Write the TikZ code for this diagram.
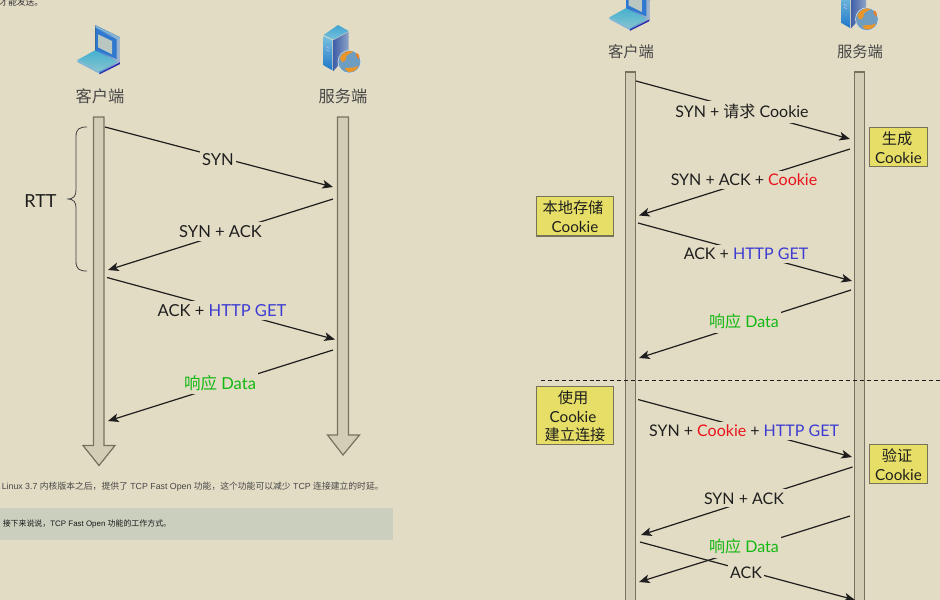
\documentclass[tikz,border=0pt]{standalone}
\usepackage{fontspec}
\setmainfont{Lato}
\newfontfamily\cjk{Noto Sans CJK SC}
\newfontfamily\webfont{Liberation Sans}
\usetikzlibrary{arrows.meta,decorations.pathreplacing,calc}
\definecolor{bgc}{HTML}{E3DCC4}
\definecolor{barc}{HTML}{D3CDB6}
\definecolor{barl}{HTML}{77725F}
\definecolor{yel}{HTML}{E6DE66}
\definecolor{yell}{HTML}{77735A}
\definecolor{band}{HTML}{CACFBE}
\definecolor{blu}{HTML}{3C3CD2}
\definecolor{rd}{HTML}{E8141C}
\definecolor{grn}{HTML}{12B812}
\definecolor{ink}{HTML}{1E1E1E}
\definecolor{lapa}{HTML}{7FB6D8}
\definecolor{lapb}{HTML}{2F78CF}
\definecolor{lapc}{HTML}{A8B8CC}
\definecolor{lapd}{HTML}{45B0CF}
\definecolor{lape}{HTML}{86C4CE}
\definecolor{srva}{HTML}{3FA6CF}
\definecolor{srvb}{HTML}{1E76C8}
\definecolor{srvc}{HTML}{3F5FA8}
\definecolor{srvd}{HTML}{8EA4C8}
\definecolor{glb}{HTML}{6F9DC0}
\definecolor{gor}{HTML}{E8962A}
\newcommand{\zh}[1]{{\cjk #1}}
\tikzset{
  x=0.75pt,y=-0.75pt,
  lifeline/.style={draw=barl,fill=barc,line width=0.9pt},
  msg/.style={draw=ink,line width=0.9pt,-{Stealth[length=8pt,width=6.5pt,inset=2pt]}},
  msgtext/.style={fill=bgc,inner xsep=1.5pt,inner ysep=2.5pt,text=ink,yshift=-0.6pt,font=\fontsize{12.4}{14}\selectfont},
  msgtextr/.style={msgtext,font=\fontsize{12}{14}\selectfont},
  hosta/.style={text=black!72,font=\cjk\fontsize{12.2}{14}\selectfont,inner sep=0pt},
  hostb/.style={text=black!72,font=\cjk\fontsize{11.5}{14}\selectfont,inner sep=0pt},
  notebox/.style={draw=yell,fill=yel,line width=0.9pt,minimum width=43.5pt,inner sep=0pt},
  notetext/.style={text=ink,inner sep=0pt,font=\fontsize{11.4}{13}\selectfont},
  webtext/.style={inner sep=0pt,anchor=west,font=\webfont\fontsize{6.6}{8}\selectfont},
  laptop/.pic={
    \begin{scope}[scale=1/3]
      \fill[left color=lapb,right color=lapc] (106,31)--(180,67)--(180,142)--(118,175)--(106,150)--cycle;
      \fill[lapa] (106,31)--(180,67)--(180,73)--(106,37)--cycle;
      \fill[lapb] (108,42)--(170,73)--(170,132)--(108,105)--cycle;
      \fill[barc!70!lapa] (114,58)--(156,78)--(156,118)--(114,97)--cycle;
      \fill[blue!65!black!85!white] (118,175)--(180,142)--(180,147)--(118,178)--cycle;
      \shade[top color=lapd,bottom color=lape] (52,135)--(105,106)--(172,140)--(118,170)--cycle;
      \fill[lapa] (52,135)--(118,170)--(118,176)--(52,141)--cycle;
    \end{scope}
  },
  serverbox/.pic={
    \begin{scope}[scale=1/3]
      \shade[top color=srva,bottom color=srva!70!white] (41,60)--(84,30)--(116,48)--(70,74)--cycle;
      \shade[top color=srva!70!white,bottom color=srvb] (41,63)--(67,76)--(67,166)--(41,151)--cycle;
      \shade[left color=srvc,right color=srvd] (70,76)--(116,50)--(116,118)--(70,168)--cycle;
      \draw[white!75!blue,line width=0.4pt] (49,95)--(58,100) (49,104)--(58,109);
      \fill[white!70!glb] (118,140) circle (35);
      \fill[glb] (118,140) circle (33);
      \fill[gor] (90,128) .. controls (100,108) and (118,104) .. (130,110) .. controls (118,118) and (106,118) .. (108,133) .. controls (100,146) and (92,142) .. cycle;
      \fill[gor] (104,160) .. controls (120,155) and (133,162) .. (143,152) .. controls (148,160) and (130,174) .. (114,171) -- cycle;
      \fill[gor!85!red] (138,114) .. controls (148,114) and (150,128) .. (146,133) .. controls (140,127) and (136,120) .. cycle;
    \end{scope}
  }
}
\begin{document}
\begin{tikzpicture}
\useasboundingbox (0,0) rectangle (940,600);
\clip (0,0) rectangle (940,600);
\fill[bgc] (0,0) rectangle (940,600);
% page text
\node[webtext,text=black!80] (ptop) at (-1,2.5) {\zh{才能发送。}};
\fill[band] (0,508) rectangle (392.5,540);
\node[webtext,text=black!72] (pone) at (1.5,487) {Linux 3.7 \zh{内核版本之后，提供了} TCP Fast Open \zh{功能，这个功能可以减少} TCP \zh{连接建立的时延。}};
\node[webtext,text=black!90,font=\webfont\fontsize{5.95}{8}\selectfont] (ptwo) at (2.5,524) {\zh{接下来说说，}TCP Fast Open \zh{功能的工作方式。}};
% left icons and titles
\pic at (60,15) {laptop};
\pic at (310,15) {serverbox};
\node[hosta] (lc) at (100,96) {客户端};
\node[hosta] (ls) at (343,96) {服务端};
% left lifelines
\draw[lifeline] (93.5,117)--(104,117)--(104,445.5)--(115,445.5)--(99,465.5)--(83,445.5)--(93.5,445.5)--cycle;
\draw[lifeline] (337.5,117)--(348.5,117)--(348.5,435)--(359.5,435)--(343,455)--(327.5,435)--(337.5,435)--cycle;
% brace
\draw[ink!85,line width=0.6pt] (87,127) .. controls (79,127) and (76,129) .. (76,137) -- (76,190) .. controls (76,196) and (74,199) .. (67,199) .. controls (74,199) and (76,202) .. (76,208) -- (76,261) .. controls (76,269) and (79,271) .. (87,271);
\node[msgtext,fill=none,font=\fontsize{13.5}{15}\selectfont] (rtt) at (40.5,200) {RTT};
% left messages
\coordinate (a1) at (105,127); \coordinate (b1) at (333,187);
\coordinate (b2) at (333,199); \coordinate (a2) at (108,270);
\coordinate (a3) at (107,277.5); \coordinate (b3) at (335,339.5);
\coordinate (b4) at (333,350); \coordinate (a4) at (108,421);
\draw[msg] (a1)--(b1);
\draw[msg] (b2)--(a2);
\draw[msg] (a3)--(b3);
\draw[msg] (b4)--(a4);
\node[msgtext] (l1) at (218,159) {SYN};
\node[msgtext] (l2) at (220.5,231) {SYN + ACK};
\node[msgtext] (l3) at (222,310) {ACK + \textcolor{blu}{HTTP GET}};
\node[msgtext] (l4) at (220,382) {\textcolor{grn}{\zh{响应} Data}};
% right icons and titles
\pic[scale=0.94] at (593,-25) {laptop};
\pic at (827.5,-27.5) {serverbox};
\node[hostb] (rc) at (631,51.5) {客户端};
\node[hostb] (rs) at (860,51.5) {服务端};
% right lifelines
\draw[lifeline] (625.5,72) rectangle (635.5,610);
\draw[lifeline] (854.5,72) rectangle (864.5,610);
% right messages
\coordinate (c1) at (636,81); \coordinate (d1) at (850,139);
\coordinate (d2) at (850,149); \coordinate (c2) at (639,215.5);
\coordinate (c3) at (638,223); \coordinate (d3) at (852,281);
\coordinate (d4) at (851,290); \coordinate (c4) at (639,358);
\coordinate (c5) at (638,399.5); \coordinate (d5) at (852,457);
\coordinate (d6) at (852.5,467); \coordinate (c6) at (641,535);
\coordinate (d7) at (850,516); \coordinate (c7) at (639,582);
\coordinate (c8) at (640,542); \coordinate (d8) at (855,600);
\draw[msg] (c1)--(d1);
\draw[msg] (d2)--(c2);
\draw[msg] (c3)--(d3);
\draw[msg] (d4)--(c4);
\draw[msg] (c5)--(d5);
\draw[msg] (d6)--(c6);
\node[msgtextr] (r1) at (742,111) {SYN + \zh{请求} Cookie};
\node[msgtextr] (r2) at (744,179) {SYN + ACK + \textcolor{rd}{Cookie}};
\node[msgtextr] (r3) at (746,253) {ACK + \textcolor{blu}{HTTP GET}};
\node[msgtextr] (r4) at (744,321) {\textcolor{grn}{\zh{响应} Data}};
\node[msgtextr] (r5) at (744,430) {SYN + \textcolor{rd}{Cookie} + \textcolor{blu}{HTTP GET}};
\node[msgtextr] (r6) at (744,497.5) {SYN + ACK};
\draw[msg] (d7)--(c7);
\node[msgtextr] (r7) at (744,546) {\textcolor{grn}{\zh{响应} Data}};
\draw[msg] (c8)--(d8);
\node[msgtextr] (r8) at (746,572) {ACK};
% divider
\coordinate (dl) at (541,380.5); \coordinate (dr) at (940,380.5);
\draw[ink,line width=0.6pt,dash pattern=on 3pt off 2.2pt] (dl)--(dr);
% notes
\node[notebox,minimum height=29pt] (n1) at (898.5,146.8) {};
\node[notetext] at (897,139) {\zh{生成}};
\node[notetext] at (898.5,158) {Cookie};
\node[notebox,minimum width=58pt,minimum height=29.5pt] (n2) at (575.2,216.3) {};
\node[notetext] at (573,208) {\zh{本地存储}};
\node[notetext] at (575,227) {Cookie};
\node[notebox,minimum width=58pt,minimum height=43.5pt] (n3) at (575.2,415.5) {};
\node[notetext] at (573,398) {\zh{使用}};
\node[notetext] at (573,417) {Cookie};
\node[notetext] at (575,435) {\zh{建立连接}};
\node[notebox,minimum height=29pt] (n4) at (898.5,463.8) {};
\node[notetext] at (897,456) {\zh{验证}};
\node[notetext] at (898.5,475) {Cookie};
\end{tikzpicture}
\end{document}
